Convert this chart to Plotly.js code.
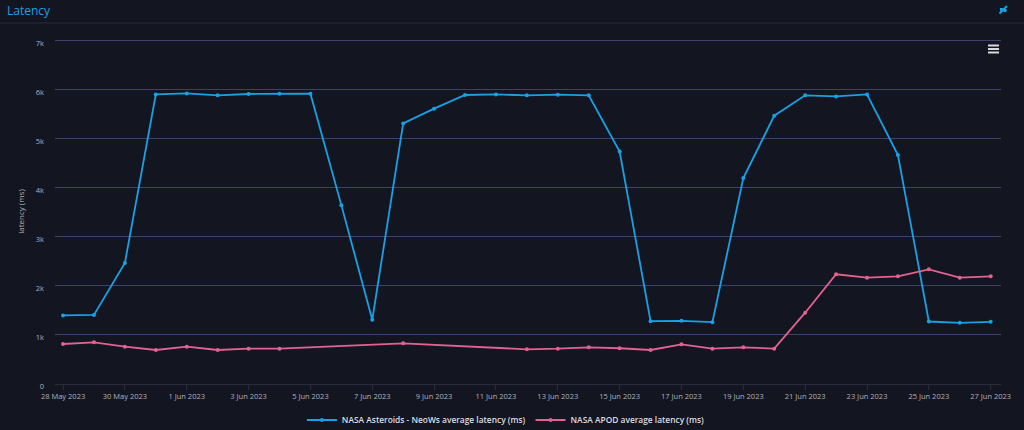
<!DOCTYPE html>
<html>
<head>
<meta charset="utf-8">
<script src="https://cdn.plot.ly/plotly-3.0.1.min.js"></script>
<style>
  html, body { margin: 0; padding: 0; background: #131621; }
  #chart { width: 1024px; height: 430px; }
</style>
</head>
<body>
<div id="chart"></div>
<script>
// ---- Data ----
const neowsDates = [
  '2023-05-28','2023-05-29','2023-05-30','2023-05-31','2023-06-01','2023-06-02','2023-06-03',
  '2023-06-04','2023-06-05','2023-06-06','2023-06-07','2023-06-08','2023-06-09','2023-06-10',
  '2023-06-11','2023-06-12','2023-06-13','2023-06-14','2023-06-15','2023-06-16','2023-06-17',
  '2023-06-18','2023-06-19','2023-06-20','2023-06-21','2023-06-22','2023-06-23','2023-06-24',
  '2023-06-25','2023-06-26','2023-06-27'
];
const neowsLatency = [
  1400, 1410, 2470, 5910, 5930, 5890, 5918,
  5924, 5924, 3650, 1310, 5318, 5618, 5897,
  5910, 5890, 5904, 5890, 4745, 1283, 1289,
  1262, 4202, 5475, 5890, 5869, 5910, 4672,
  1275, 1248, 1269
];
const apodDates = [
  '2023-05-28','2023-05-29','2023-05-30','2023-05-31','2023-06-01','2023-06-02','2023-06-03',
  '2023-06-04','2023-06-08','2023-06-12','2023-06-13','2023-06-14','2023-06-15','2023-06-16',
  '2023-06-17','2023-06-18','2023-06-19','2023-06-20','2023-06-21','2023-06-22','2023-06-23',
  '2023-06-24','2023-06-25','2023-06-26','2023-06-27'
];
const apodLatency = [
  816, 851, 762, 694, 762, 694, 721,
  721, 830, 708, 721, 749, 729, 694,
  810, 721, 749, 721, 1455, 2239, 2170,
  2198, 2340, 2170, 2198
];
const seriesNames = [
  'NASA Asteroids - NeoWs average latency (ms)',
  'NASA APOD average latency (ms)'
];
const chartTitle = 'Latency';
const yTitle = 'latency (ms)';

// ---- Geometry helpers (plot area in pixels) ----
const W = 1024, H = 430;
const L = 55, R = 23, T = 39, B = 46;
const pw = W - L - R, ph = H - T - B;
const px = x => (x - L) / pw;          // pixel x -> paper x
const py = y => (H - B - y) / ph;      // pixel y -> paper y

const blue = '#17a2e6';
const pink = '#e3628f';
const gridCol = '#3a4270';
const tickCol = '#afb1ba';

const traces = [
  {
    x: neowsDates, y: neowsLatency, name: seriesNames[0],
    type: 'scatter', mode: 'lines+markers',
    line: { color: blue, width: 1.8 },
    marker: { color: blue, size: 4 }
  },
  {
    x: apodDates, y: apodLatency, name: seriesNames[1],
    type: 'scatter', mode: 'lines+markers',
    line: { color: pink, width: 1.8 },
    marker: { color: pink, size: 4 }
  }
];

const shapes = [
  // header separator
  { type: 'line', xref: 'paper', yref: 'paper', x0: px(0), x1: px(1024), y0: py(23), y1: py(23),
    line: { color: '#272b38', width: 1 } },
  // hamburger menu
  { type: 'rect', xref: 'paper', yref: 'paper', x0: px(988), x1: px(999), y0: py(44.5), y1: py(46.5),
    fillcolor: '#d8d8de', line: { width: 0 } },
  { type: 'rect', xref: 'paper', yref: 'paper', x0: px(988), x1: px(999), y0: py(48), y1: py(50),
    fillcolor: '#d8d8de', line: { width: 0 } },
  { type: 'rect', xref: 'paper', yref: 'paper', x0: px(988), x1: px(999), y0: py(51.5), y1: py(53.5),
    fillcolor: '#d8d8de', line: { width: 0 } },
  // compress icon (diagonal arrows)
  { type: 'line', xref: 'paper', yref: 'paper', x0: px(999.5), x1: px(1007), y0: py(13.5), y1: py(6),
    line: { color: blue, width: 2 } },
  { type: 'rect', xref: 'paper', yref: 'paper', x0: px(1000), x1: px(1003), y0: py(11), y1: py(8),
    fillcolor: blue, line: { width: 0 } },
  { type: 'rect', xref: 'paper', yref: 'paper', x0: px(1003.5), x1: px(1006.5), y0: py(12), y1: py(9),
    fillcolor: blue, line: { width: 0 } }
];

const layout = {
  width: W, height: H,
  margin: { l: L, r: R, t: T, b: B, pad: 0 },
  paper_bgcolor: '#131621',
  plot_bgcolor: '#131621',
  font: { family: '"Open Sans", "Noto Sans", sans-serif', color: tickCol, size: 8 },
  title: {
    text: chartTitle,
    font: { family: '"Open Sans", sans-serif', size: 12, color: '#1f9fe6', weight: 500 },
    xref: 'container', yref: 'container',
    x: 7 / W, xanchor: 'left',
    y: 1 - 10.5 / H, yanchor: 'middle'
  },
  showlegend: true,
  legend: {
    orientation: 'h',
    xref: 'container', yref: 'container',
    x: 0.494, xanchor: 'center',
    y: 1 - 420 / H, yanchor: 'middle',
    font: { size: 8.4, color: '#dcdce2', weight: 600 },
    bgcolor: 'rgba(0,0,0,0)',
    itemwidth: 30,
    tracegroupgap: 0
  },
  xaxis: {
    type: 'date',
    range: ['2023-05-27 17:45', '2023-06-27 08:00'],
    tick0: '2023-05-28',
    dtick: 2 * 86400000,
    tickformat: '%-d %b %Y',
    showgrid: false,
    zeroline: false,
    showline: true,
    linecolor: '#262b3d',
    linewidth: 1,
    ticks: 'outside',
    ticklen: 5,
    tickcolor: '#262b3d',
    tickfont: { size: 7.5, color: tickCol, weight: 500 },
    fixedrange: true
  },
  yaxis: {
    range: [0, 7040],
    dtick: 1000,
    tickformat: '~s',
    showgrid: true,
    gridcolor: gridCol,
    gridwidth: 1,
    zeroline: false,
    showline: false,
    ticks: '',
    ticklabelstandoff: 10,
    ticklabelshift: 2,
    tickfont: { size: 7.5, color: tickCol, weight: 500 },
    title: { text: yTitle, font: { size: 8, color: tickCol }, standoff: 9 },
    fixedrange: true
  },
  shapes: shapes,
  hovermode: 'x'
};

Plotly.newPlot('chart', traces, layout, { displayModeBar: false, responsive: false });
</script>
</body>
</html>
